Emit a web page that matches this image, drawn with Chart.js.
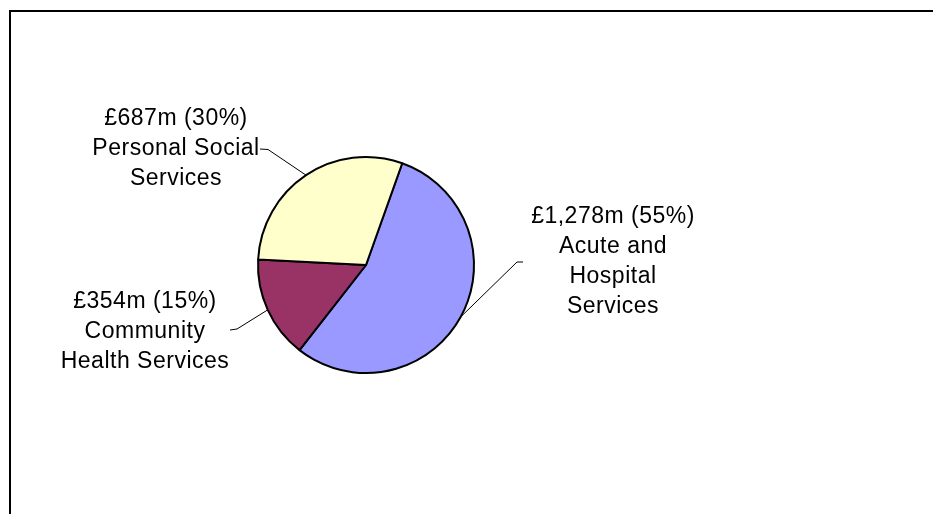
<!DOCTYPE html>
<html lang="en">
<head>
    <meta charset="UTF-8">
    <title>Health and Social Care Spend</title>
    <script src="https://cdn.jsdelivr.net/npm/chart.js@4/dist/chart.umd.min.js"></script>
    <style>
      html, body { margin: 0; padding: 0; background: #fff; }
      canvas { display: block; }
    </style>
    <script>
      // spend by programme, £ millions
      const categories = [
        ['Acute and', 'Hospital', 'Services'],
        ['Community', 'Health Services'],
        ['Personal Social', 'Services']
      ]
      const spendMillions = [1278, 354, 687]
      const sliceColours = ['#9999FF', '#993366', '#FFFFCC']

      // where each label block sits and where its leader line bends
      const labelLayout = [
        { x: 613, y: 223, lineFrom: [523, 262], elbow: [517, 262] },
        { x: 145, y: 308, lineFrom: [230, 330], elbow: [237, 329] },
        { x: 176, y: 125, lineFrom: [260, 149], elbow: [268, 149.5] }
      ]
      const lineHeight = 30

      window.onload = function() {
        const ctx = document.getElementById("chart").getContext('2d')
        const total = spendMillions.reduce((a, b) => a + b, 0)

        const labelText = spendMillions.map((v, i) => {
          const pct = Math.round(v / total * 100)
          return [`£${v.toLocaleString('en-GB')}m (${pct}%)`].concat(categories[i])
        })

        const frame = {
          id: 'frame',
          beforeDraw(chart) {
            const c = chart.ctx
            c.save()
            c.strokeStyle = '#000'
            c.lineWidth = 2
            c.strokeRect(10, 11, 1200, 1200)
            c.restore()
          }
        }

        const sliceLabels = {
          id: 'sliceLabels',
          afterDraw(chart) {
            const c = chart.ctx
            const arcs = chart.getDatasetMeta(0).data
            c.save()
            arcs.forEach((arc, i) => {
              const lay = labelLayout[i]
              const { x, y, startAngle, endAngle, outerRadius } = arc.getProps(['x', 'y', 'startAngle', 'endAngle', 'outerRadius'], true)
              const mid = (startAngle + endAngle) / 2
              const ex = x + Math.cos(mid) * outerRadius
              const ey = y + Math.sin(mid) * outerRadius

              c.strokeStyle = '#000'
              c.lineWidth = 1
              c.beginPath()
              c.moveTo(lay.lineFrom[0], lay.lineFrom[1])
              c.lineTo(lay.elbow[0], lay.elbow[1])
              c.lineTo(ex, ey)
              c.stroke()

              c.fillStyle = '#000'
              c.font = '23px "Liberation Sans", Arial, sans-serif'
              c.letterSpacing = '0.5px'
              c.textAlign = 'center'
              c.textBaseline = 'alphabetic'
              labelText[i].forEach((line, n) => {
                c.fillText(line, lay.x, lay.y + n * lineHeight)
              })
            })
            c.restore()
          }
        }

        new Chart(ctx, {
          type: 'pie',
          data: {
            labels: categories.map(l => l.join(' ')),
            datasets: [{
              data: spendMillions,
              backgroundColor: sliceColours,
              borderColor: '#000',
              borderWidth: 2
            }]
          },
          options: {
            responsive: false,
            animation: false,
            devicePixelRatio: 1,
            rotation: 19.6,
            radius: 108,
            layout: { padding: { left: 258, right: 459, top: 157, bottom: 141 } },
            plugins: {
              legend: { display: false },
              tooltip: { enabled: false }
            }
          },
          plugins: [frame, sliceLabels]
        })
      }
    </script>
</head>
<body>
<canvas id="chart" width="933" height="514"></canvas>
</body>
</html>
